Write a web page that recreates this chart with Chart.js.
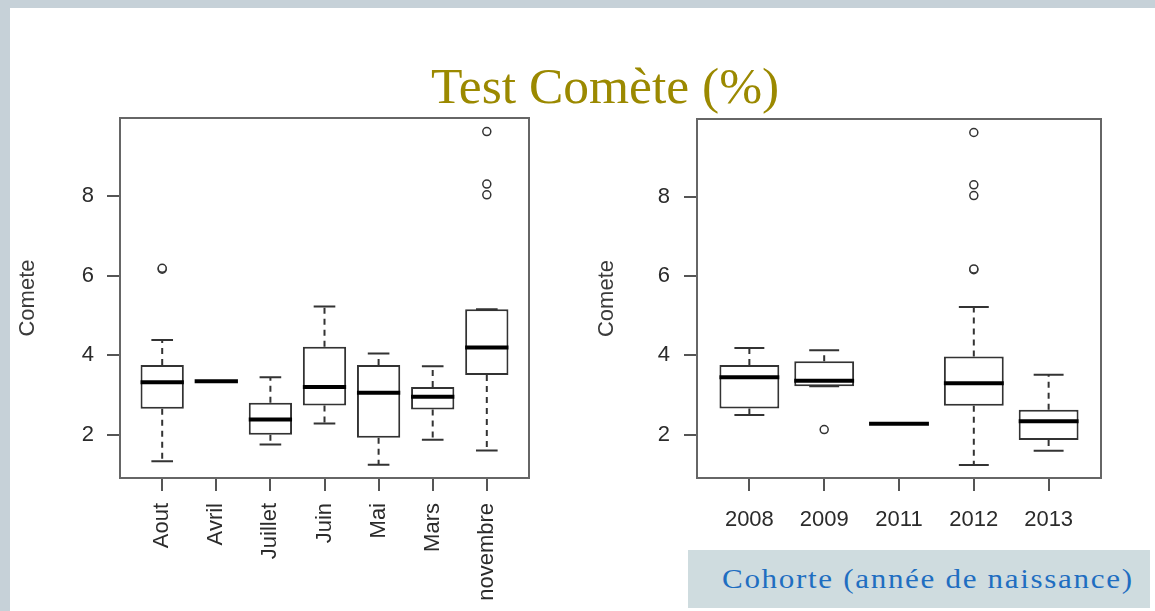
<!DOCTYPE html>
<html>
<head>
<meta charset="utf-8">
<script src="https://cdn.jsdelivr.net/npm/chart.js@4.4.1/dist/chart.umd.min.js"></script>
<style>
    html, body { margin: 0; padding: 0; }
    body {
        width: 1155px; height: 611px; overflow: hidden; position: relative;
        background: #ffffff;
    }
    .frame-top { position: absolute; left: 0; top: 0; width: 1155px; height: 8px; background: #c6d1d8; }
    .frame-left { position: absolute; left: 0; top: 0; width: 10px; height: 611px; background: #c6d1d8; }
    .title {
        position: absolute; left: 431px; top: 60px;
        font-family: 'Liberation Serif', 'Times New Roman', serif;
        font-size: 51.5px; line-height: 1; color: #9b8900; white-space: nowrap;
    }
    .caption {
        position: absolute; left: 688px; top: 550px; width: 462px; height: 58px;
        background: #cfdcdf;
        font-family: 'Liberation Serif', 'Times New Roman', serif;
        font-size: 28px; line-height: 58px; color: #1f6ec1;
        padding-left: 34px; box-sizing: border-box; white-space: nowrap;
    }
    .caption span {
        display: inline-block; letter-spacing: 1.5px;
        transform: scaleX(1.11); transform-origin: left center;
    }
    .box { position: absolute; }
</style>
</head>
<body>
<div class="frame-top"></div>
<div class="frame-left"></div>
<div class="title">Test Comète (%)</div>

<div class="box" id="leftBox" style="left:10px; top:100px; width:530px; height:511px;">
    <canvas id="leftChart"></canvas>
</div>
<div class="box" id="rightBox" style="left:590px; top:100px; width:520px; height:511px;">
    <canvas id="rightChart"></canvas>
</div>

<div class="caption"><span>Cohorte (année de naissance)</span></div>

<script>
// y axis (shared)
const yTicks = [2, 4, 6, 8];
const yMin = 0.91;
const yMax = 9.96;

// left panel: by month
const monthCats = ['Aout', 'Avril', 'Juillet', 'Juin', 'Mai', 'Mars', 'novembre'];
const monthMin = [1.33, 3.34, 1.75, 2.28, 1.24, 1.87, 1.60];
const monthQ1 = [2.65, 3.34, 2.00, 2.73, 1.92, 2.63, 3.50];
const monthMed = [3.32, 3.34, 2.38, 3.20, 3.05, 2.95, 4.19];
const monthQ3 = [3.75, 3.34, 2.80, 4.21, 3.75, 3.20, 5.15];
const monthMax = [4.38, 3.34, 3.44, 5.22, 4.04, 3.72, 5.15];
const monthOut = [[6.16, 6.18], [], [], [], [], [], [9.62, 8.30, 8.03]];

// right panel: by cohort
const yearCats = ['2008', '2009', '2011', '2012', '2013'];
const yearMin = [2.50, 3.22, 2.28, 1.24, 1.60];
const yearQ1 = [2.66, 3.22, 2.28, 2.73, 1.87];
const yearMed = [3.45, 3.36, 2.28, 3.30, 2.34];
const yearQ3 = [3.76, 3.85, 2.28, 3.97, 2.63];
const yearMax = [4.19, 4.13, 2.28, 5.22, 3.51];
const yearOut = [[], [2.13], [], [9.62, 8.30, 8.03, 6.16, 6.18], []];

Chart.defaults.font.family = "'Liberation Sans', Arial, sans-serif";
Chart.defaults.animation = false;

// whiskers, staples and medians, R style
const boxExtras = {
    id: 'boxExtras',
    afterDatasetsDraw(chart, args, opts) {
        const ctx = chart.ctx;
        const x = chart.scales.x;
        const y = chart.scales.y;
        const half = (x.getPixelForValue(1.4) - x.getPixelForValue(1));
        const staple = half / 2;

        ctx.save();
        opts.med.forEach((m, i) => {
            const cx = x.getPixelForValue(i + 1);

            ctx.strokeStyle = '#333';
            ctx.lineWidth = 2;

            // dashed whiskers
            ctx.setLineDash([6, 5]);
            ctx.beginPath();
            if (opts.max[i] > opts.q3[i]) {
                ctx.moveTo(cx, y.getPixelForValue(opts.q3[i]));
                ctx.lineTo(cx, y.getPixelForValue(opts.max[i]));
            }
            if (opts.min[i] < opts.q1[i]) {
                ctx.moveTo(cx, y.getPixelForValue(opts.q1[i]));
                ctx.lineTo(cx, y.getPixelForValue(opts.min[i]));
            }
            ctx.stroke();

            // staples
            ctx.setLineDash([]);
            ctx.beginPath();
            [opts.min[i], opts.max[i]].forEach(v => {
                const py = y.getPixelForValue(v);
                ctx.moveTo(cx - staple, py);
                ctx.lineTo(cx + staple, py);
            });
            ctx.stroke();

            // median
            ctx.strokeStyle = '#000';
            ctx.lineWidth = 4;
            ctx.beginPath();
            const my = y.getPixelForValue(m);
            ctx.moveTo(cx - half, my);
            ctx.lineTo(cx + half, my);
            ctx.stroke();
        });
        ctx.restore();
    },
    afterDraw(chart) {
        const a = chart.chartArea;
        const ctx = chart.ctx;
        ctx.save();
        ctx.strokeStyle = '#666';
        ctx.lineWidth = 2;
        ctx.strokeRect(a.left, a.top, a.right - a.left, a.bottom - a.top);
        ctx.restore();
    }
};

function makeBoxChart(canvasId, cats, mins, q1s, meds, q3s, maxs, outs, cfg) {

    const n = cats.length;
    const ext = n * 0.04;

    const boxes = cats.map((c, i) => ({ x: i + 1, y: [q1s[i], q3s[i]] }));

    const points = [];
    outs.forEach((list, i) => {
        list.forEach(v => points.push({ x: i + 1, y: v }));
    });

    return new Chart(document.getElementById(canvasId), {

        type: 'bar',

        data: {
            datasets: [
                {
                    type: 'bar',
                    data: boxes,
                    backgroundColor: '#ffffff',
                    borderColor: '#333',
                    borderWidth: 2,
                    borderSkipped: false,
                    categoryPercentage: 1,
                    barPercentage: 0.8
                },
                {
                    type: 'scatter',
                    data: points,
                    pointStyle: 'circle',
                    pointRadius: 4,
                    backgroundColor: '#ffffff',
                    borderColor: '#333',
                    borderWidth: 1.5
                }
            ]
        },

        options: {

            responsive: true,
            maintainAspectRatio: false,
            events: [],

            layout: {
                padding: { top: cfg.padTop, right: cfg.padRight, left: 0, bottom: 0 }
            },

            plugins: {
                legend: { display: false },
                tooltip: { enabled: false },
                boxExtras: { min: mins, q1: q1s, med: meds, q3: q3s, max: maxs }
            },

            scales: {

                x: {
                    type: 'linear',
                    offset: false,
                    min: 0.5 - ext,
                    max: n + 0.5 + ext,
                    afterBuildTicks: s => { s.ticks = cats.map((c, i) => ({ value: i + 1 })); },
                    afterFit: s => {
                        s.height = cfg.xHeight;
                        s.paddingLeft = 0;
                        s.paddingRight = 0;
                    },
                    grid: {
                        display: true,
                        offset: false,
                        drawOnChartArea: false,
                        drawTicks: true,
                        tickLength: 13,
                        color: '#555',
                        lineWidth: 2
                    },
                    border: { display: false },
                    ticks: {
                        autoSkip: false,
                        minRotation: cfg.rot,
                        maxRotation: cfg.rot,
                        padding: cfg.xPad,
                        color: '#2b2b2b',
                        font: { size: 22 },
                        callback: v => cats[v - 1]
                    }
                },

                y: {
                    min: yMin,
                    max: yMax,
                    afterBuildTicks: s => { s.ticks = yTicks.map(v => ({ value: v })); },
                    afterFit: s => {
                        s.width = cfg.yWidth;
                        s.paddingTop = 0;
                        s.paddingBottom = 0;
                    },
                    grid: {
                        display: true,
                        drawOnChartArea: false,
                        drawTicks: true,
                        tickLength: 13,
                        color: '#555',
                        lineWidth: 2
                    },
                    border: { display: false },
                    ticks: {
                        padding: cfg.yPad,
                        color: '#2b2b2b',
                        font: { size: 22 }
                    },
                    title: {
                        display: true,
                        text: 'Comete',
                        color: '#3a3a3a',
                        font: { size: 22 },
                        padding: { top: cfg.titlePad, bottom: 0 }
                    }
                }
            }
        },

        plugins: [boxExtras]
    });
}

makeBoxChart('leftChart', monthCats, monthMin, monthQ1, monthMed, monthQ3, monthMax, monthOut, {
    padTop: 18, padRight: 11, xHeight: 133, yWidth: 110, rot: 90, xPad: 12, yPad: 13, titlePad: 5
});

makeBoxChart('rightChart', yearCats, yearMin, yearQ1, yearMed, yearQ3, yearMax, yearOut, {
    padTop: 19, padRight: 9, xHeight: 133, yWidth: 107, rot: 0, xPad: 16, yPad: 14, titlePad: 4
});
</script>
</body>
</html>
